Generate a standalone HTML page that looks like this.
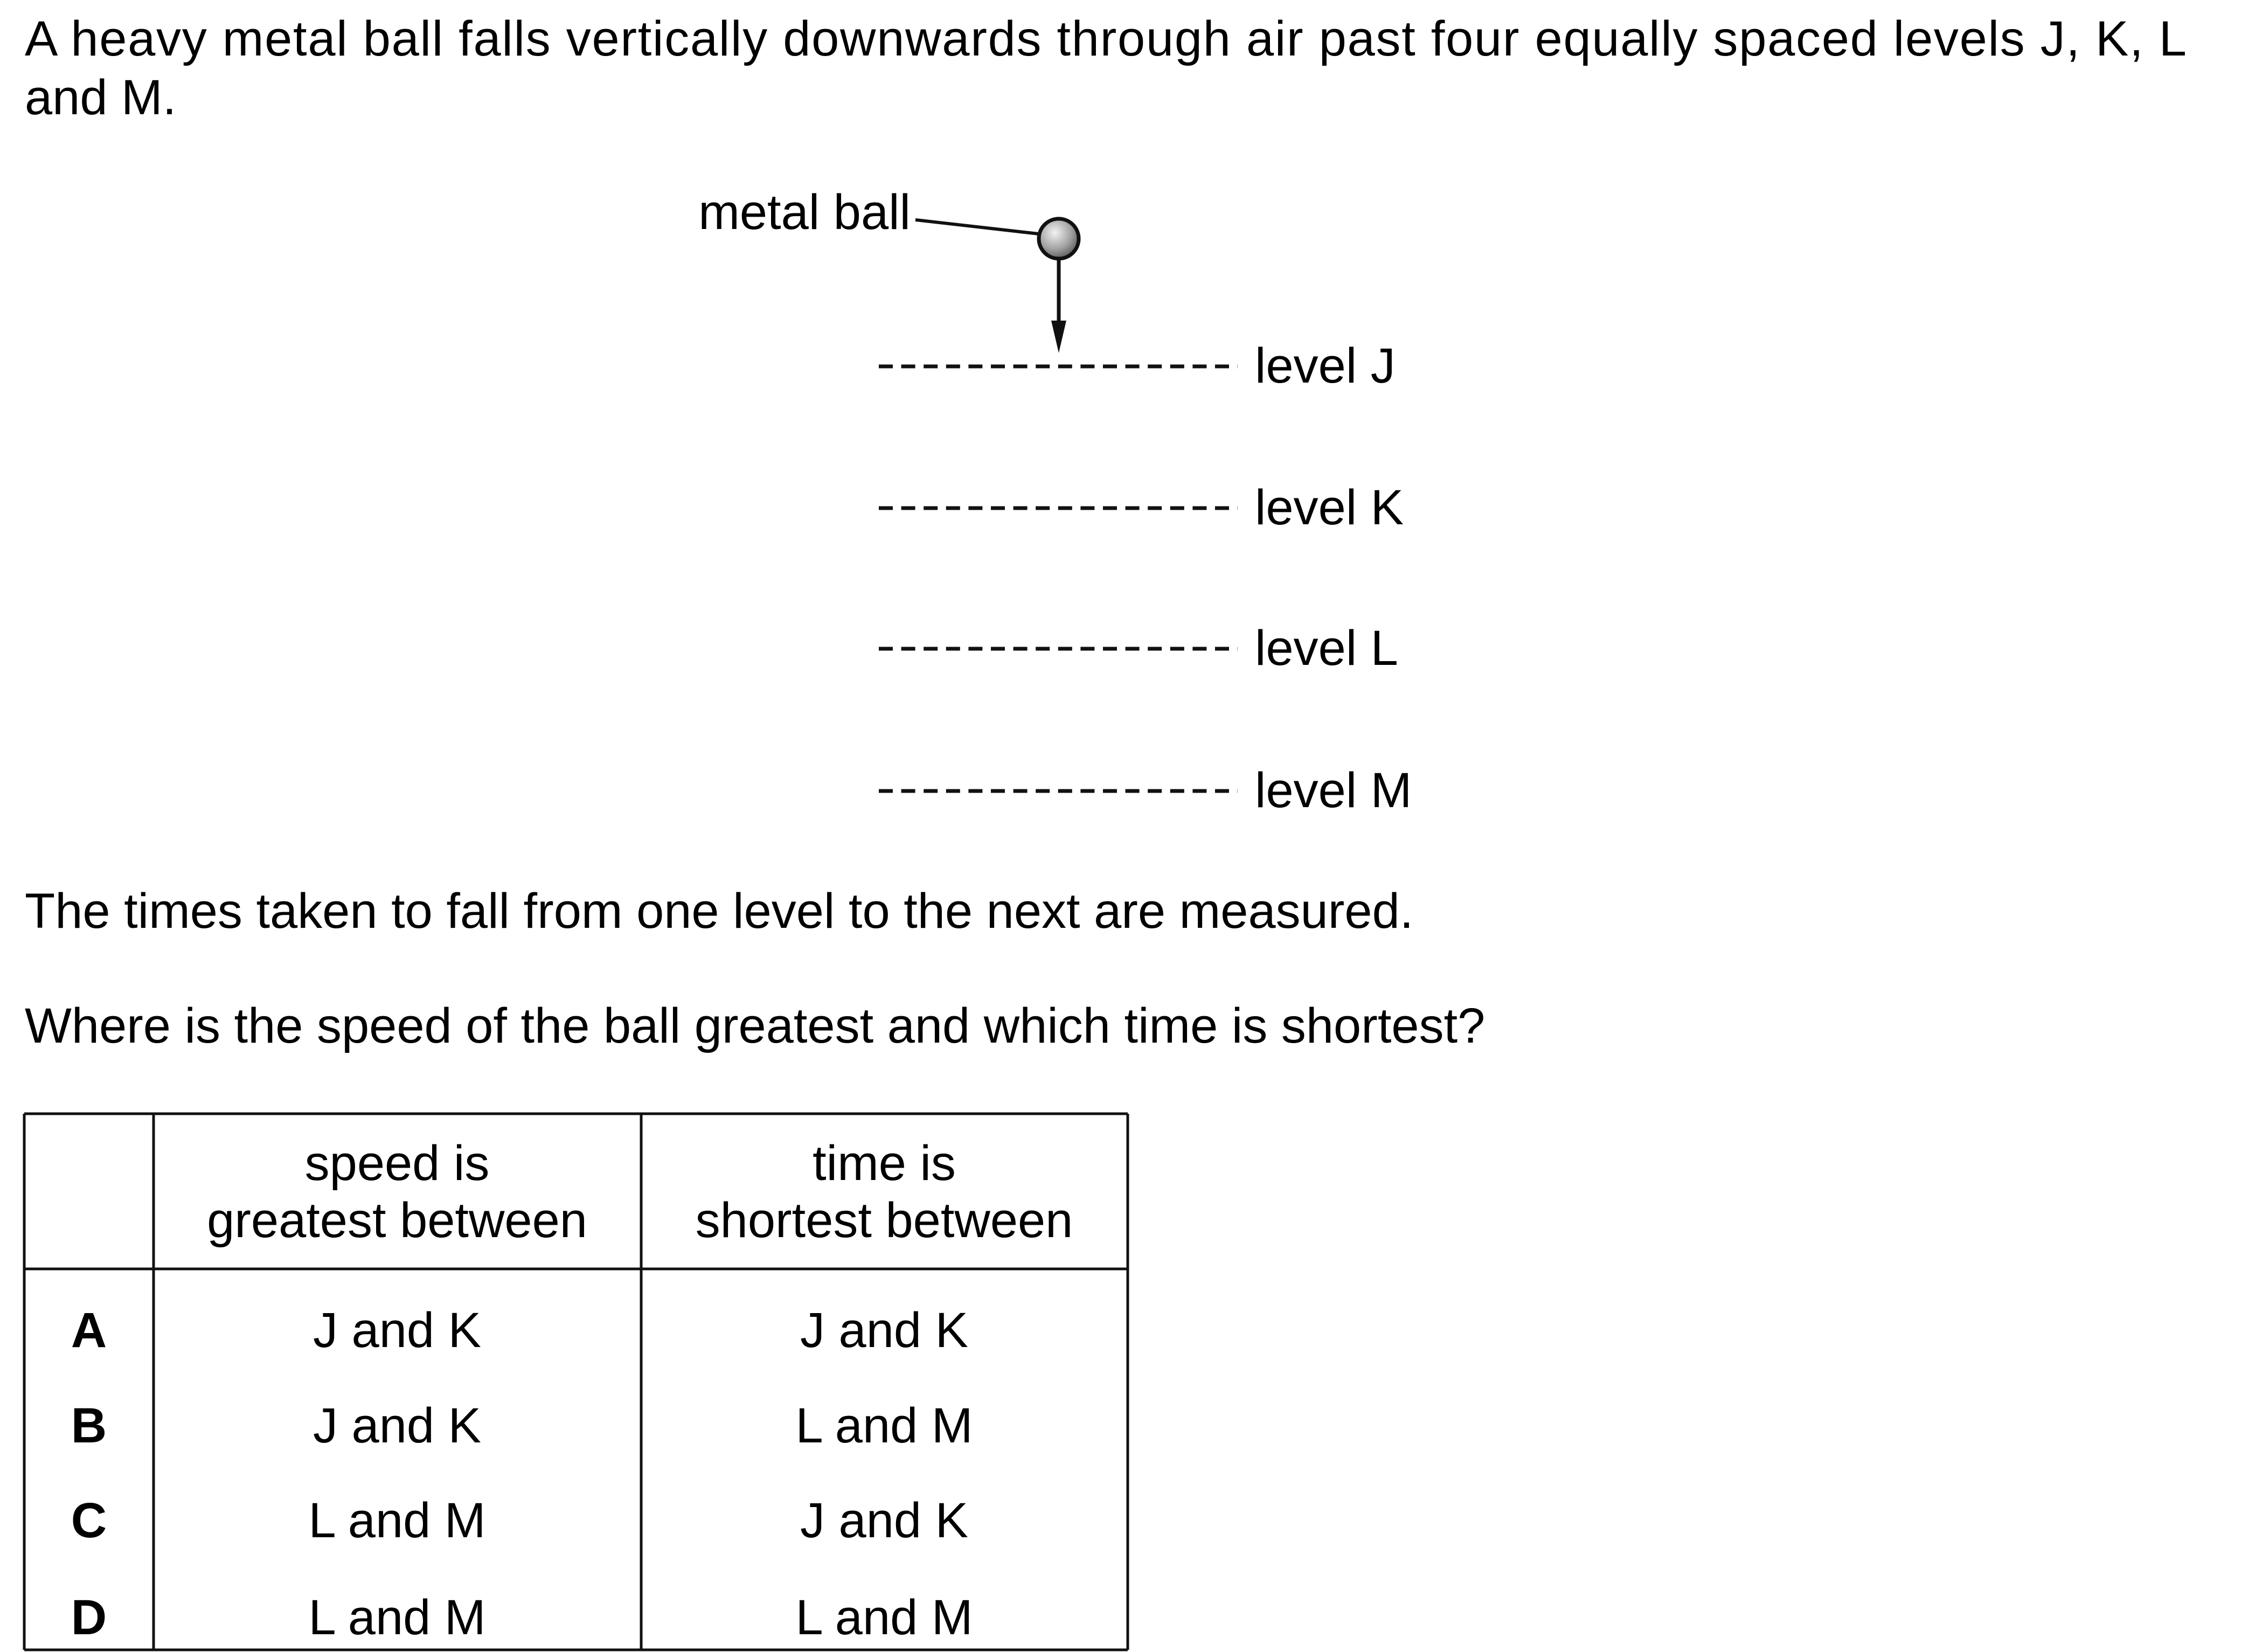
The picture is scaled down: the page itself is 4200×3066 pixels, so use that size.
<!DOCTYPE html>
<html><head><meta charset="utf-8"><style>
html,body{margin:0;padding:0;background:#fff;}
svg{display:block;}
text{font-family:"Liberation Sans",Arial,sans-serif;fill:#000;}
</style></head><body>
<svg width="4200" height="3066" viewBox="0 0 4200 3066" xmlns="http://www.w3.org/2000/svg">
<defs>
<radialGradient id="g" cx="0.4" cy="0.35" r="0.7">
<stop offset="0" stop-color="#f2f2f2"/><stop offset="0.6" stop-color="#a0a0a0"/><stop offset="1" stop-color="#555"/>
</radialGradient>
</defs>
<g font-size="92">
<text x="46" y="103" textLength="4012" lengthAdjust="spacing">A heavy metal ball falls vertically downwards through air past four equally spaced levels J, K, L</text>
<text x="46" y="212">and M.</text>
<text x="1690" y="425" text-anchor="end">metal ball</text>
<line x1="1699" y1="408" x2="1945" y2="436" stroke="#111" stroke-width="6"/>
<circle cx="1965" cy="443" r="37" fill="url(#g)" stroke="#111" stroke-width="7"/>
<line x1="1965" y1="480" x2="1965" y2="600" stroke="#111" stroke-width="7"/>
<polygon points="1951,595 1979,595 1965,655" fill="#111"/>
<g stroke="#111" stroke-width="7" stroke-dasharray="26 15.6">
<line x1="1631" y1="680" x2="2297" y2="680"/>
<line x1="1631" y1="943" x2="2297" y2="943"/>
<line x1="1631" y1="1204" x2="2297" y2="1204"/>
<line x1="1631" y1="1468" x2="2297" y2="1468"/>
</g>
<text x="2329" y="710">level J</text>
<text x="2329" y="973">level K</text>
<text x="2329" y="1234">level L</text>
<text x="2329" y="1498">level M</text>
<text x="46" y="1722">The times taken to fall from one level to the next are measured.</text>
<text x="46" y="1935">Where is the speed of the ball greatest and which time is shortest?</text>
<g stroke="#111" stroke-width="5" fill="none">
<line x1="45" y1="2067" x2="2093" y2="2067"/>
<line x1="45" y1="2355" x2="2093" y2="2355"/>
<line x1="45" y1="3062" x2="2093" y2="3062"/>
<line x1="45" y1="2067" x2="45" y2="3062"/>
<line x1="285" y1="2067" x2="285" y2="3062"/>
<line x1="1190" y1="2067" x2="1190" y2="3062"/>
<line x1="2093" y1="2067" x2="2093" y2="3062"/>
</g>
<g text-anchor="middle">
<text x="737" y="2190">speed is</text>
<text x="737" y="2296">greatest between</text>
<text x="1641" y="2190">time is</text>
<text x="1641" y="2296">shortest between</text>
<g font-weight="bold">
<text x="165" y="2500">A</text>
<text x="165" y="2677">B</text>
<text x="165" y="2853">C</text>
<text x="165" y="3033">D</text>
</g>
<text x="737" y="2500">J and K</text>
<text x="737" y="2677">J and K</text>
<text x="737" y="2853">L and M</text>
<text x="737" y="3033">L and M</text>
<text x="1641" y="2500">J and K</text>
<text x="1641" y="2677">L and M</text>
<text x="1641" y="2853">J and K</text>
<text x="1641" y="3033">L and M</text>
</g>
</g>
</svg>
</body></html>
